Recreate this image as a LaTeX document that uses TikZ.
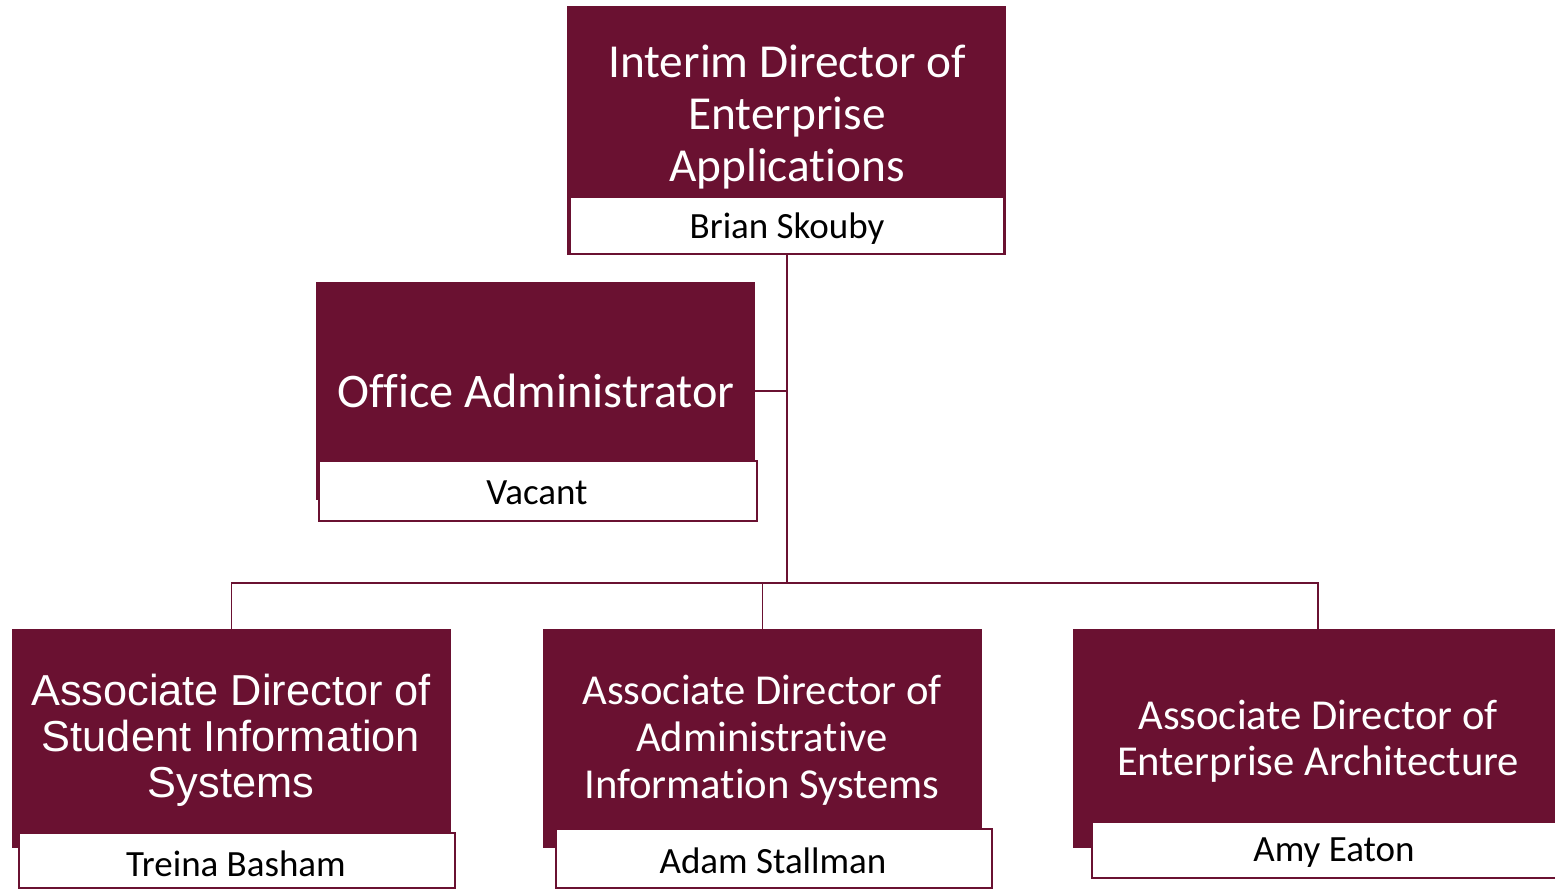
\documentclass[tikz,border=0pt]{standalone}
\usepackage{fontspec}
\setmainfont{Carlito}[Ligatures={NoCommon}]
\newfontfamily\robo{Liberation Sans}
\definecolor{maroon}{RGB}{106,17,49}
\begin{document}
\begin{tikzpicture}[x=0.75pt,y=-0.75pt,
  titlebox/.style={fill=maroon,draw=none,rectangle,inner sep=0pt},
  namebox/.style={fill=white,draw=maroon,line width=2pt,rectangle,inner sep=0pt},
  ttext/.style={text=white,align=center,inner sep=0pt},
  ntext/.style={text=black,align=center,inner sep=0pt,font=\fontsize{27.75pt}{32pt}\selectfont},
  conn/.style={draw=maroon,line width=1.1pt}]
\useasboundingbox (0,0) rectangle (1555,890);
% top
\node[titlebox,minimum width=329.25pt,minimum height=186.75pt] (top) at (786.5,130.5) {};
\node[namebox,minimum width=325.5pt,minimum height=42.75pt] (topw) at (787,225.5) {};
\node[ttext,font=\fontsize{35.5pt}{39pt}\selectfont] (toptxt) at (787,117) {Interim Director of\\Enterprise\\Applications};
\node[ntext] (topname) at (787,229) {Brian Skouby};
% office
\node[titlebox,minimum width=329.25pt,minimum height=163.5pt] (off) at (535.5,391) {};
\node[namebox,minimum width=328.5pt,minimum height=45pt] (offw) at (538,491) {};
\node[ttext,font=\fontsize{36.2pt}{40pt}\selectfont] (offtxt) at (536,391) {Office Administrator};
\node[ntext] (offname) at (537,493) {Vacant};
% bottom left
\node[titlebox,minimum width=329.25pt,minimum height=164.25pt] (bl) at (231.5,738.5) {};
\node[namebox,minimum width=327pt,minimum height=41.25pt] (blw) at (237,860.5) {};
\node[ttext,font=\robo\fontsize{32.5pt}{34.5pt}\selectfont] (bltxt) at (231,740) {Associate Director of\\Student Information\\Systems};
\node[ntext] (blname) at (236,864) {Treina Basham};
% bottom middle
\node[titlebox,minimum width=329.25pt,minimum height=164.25pt] (bm) at (762.5,738.5) {};
\node[namebox,minimum width=327pt,minimum height=44.25pt] (bmw) at (774,858.5) {};
\node[ttext,font=\fontsize{32pt}{35.25pt}\selectfont] (bmtxt) at (762,740) {Associate Director of\\Administrative\\Information Systems};
\node[ntext] (bmname) at (773,861) {Adam Stallman};
% bottom right
\node[titlebox,minimum width=367.5pt,minimum height=164.25pt] (br) at (1318,738.5) {};
\node[namebox,minimum width=358.5pt,minimum height=42pt] (brw) at (1331,850) {};
\node[ttext,font=\fontsize{32pt}{34.5pt}\selectfont] (brtxt) at (1318,741) {Associate Director of\\Enterprise Architecture};
\node[ntext] (brname) at (1334,853) {Amy Eaton};
% connectors
\coordinate (j2) at (787,583);
\draw[conn] (topw.south) -- (j2);
\draw[conn] (off.east) -- (off.east -| topw.south);
\draw[conn] (bl.north) -- (bl.north |- j2) -| (br.north);
\draw[conn] (bm.north) -- (bm.north |- j2);
\end{tikzpicture}
\end{document}
